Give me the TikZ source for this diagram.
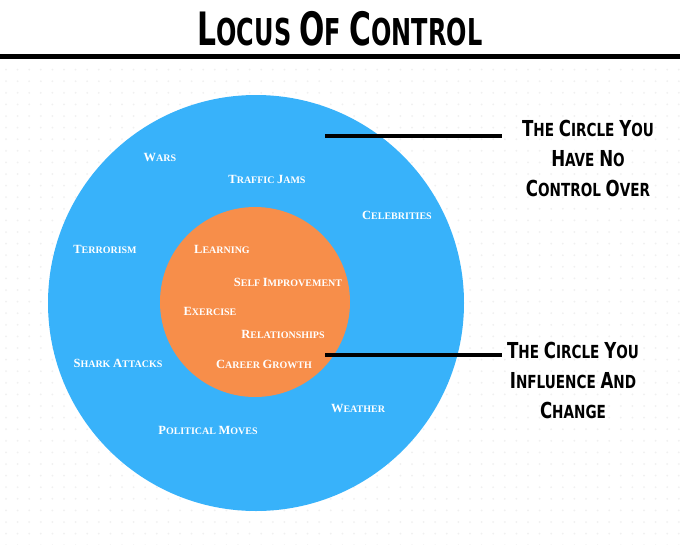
\documentclass[tikz,border=0pt]{standalone}
\usepackage{fontspec}
\setmainfont{Liberation Serif}
\newfontfamily\titlefont{DejaVu Sans Condensed}
\definecolor{outerblue}{RGB}{56,178,250}
\definecolor{innerorange}{RGB}{247,142,74}
\definecolor{dotgrey}{RGB}{240,240,240}
\newcommand\tsc[2]{{\fontsize{46}{46}\selectfont#1}{\fontsize{37}{37}\selectfont#2}}
\newcommand\rsc[2]{{\fontsize{22}{22}\selectfont#1}{\fontsize{18}{18}\selectfont#2}}
\newcommand\isc[2]{{\fontsize{12.5}{12.5}\selectfont#1}{\fontsize{10}{10}\selectfont#2}}
\tikzset{
  inlabel/.style={text=white,font=\bfseries,inner sep=0pt},
  sidelabel/.style={text=black,font=\titlefont\bfseries\fontsize{18}{30}\selectfont,align=center,inner sep=0pt},
  leader/.style={line width=4pt,black}
}
\begin{document}
\begin{tikzpicture}[x=1pt,y=-1pt]
\useasboundingbox[fill=white] (0,0) rectangle (680,544);
% faint dotted background
\foreach \i in {0,...,58}{\foreach \j in {6,...,47}{
  \fill[dotgrey] (6+\i*11.6,\j*11.6) circle (1pt);}}
% title
\node[inner sep=0pt,font=\titlefont\bfseries\fontsize{37}{37}\selectfont] (title) at (340,29)
  {\scalebox{0.72}[1]{\tsc{L}{OCUS} \tsc{O}{F} \tsc{C}{ONTROL}}};
\coordinate (ruleL) at (0,56);
\coordinate (ruleR) at (680,56);
\draw[line width=5pt,black] (ruleL) -- (ruleR);
% circles
\node[circle,fill=outerblue,minimum size=416pt,inner sep=0pt] (outer) at (256,303) {};
\node[circle,fill=innerorange,minimum size=190pt,inner sep=0pt] (inner) at (255,302) {};
% outer labels
\node[inlabel] (wars) at (160,157) {\isc{W}{ARS}};
\node[inlabel] (traffic) at (267,179) {\isc{T}{RAFFIC} \isc{J}{AMS}};
\node[inlabel] (celeb) at (397,215) {\isc{C}{ELEBRITIES}};
\node[inlabel] (terror) at (105,249) {\isc{T}{ERRORISM}};
\node[inlabel] (shark) at (118,363) {\isc{S}{HARK} \isc{A}{TTACKS}};
\node[inlabel] (weather) at (358,408) {\isc{W}{EATHER}};
\node[inlabel] (political) at (208,430) {\isc{P}{OLITICAL} \isc{M}{OVES}};
% inner labels
\node[inlabel] (learning) at (222,249) {\isc{L}{EARNING}};
\node[inlabel] (self) at (288,282) {\isc{S}{ELF} \isc{I}{MPROVEMENT}};
\node[inlabel] (exercise) at (210,311) {\isc{E}{XERCISE}};
\node[inlabel] (relations) at (283,334) {\isc{R}{ELATIONSHIPS}};
\node[inlabel] (career) at (264,364) {\isc{C}{AREER} \isc{G}{ROWTH}};
% side labels
\node[sidelabel] (noctrl) at (588,158) {\scalebox{0.84}[1]{\rsc{T}{HE} \rsc{C}{IRCLE} \rsc{Y}{OU}}\\\scalebox{0.84}[1]{\rsc{H}{AVE} \rsc{N}{O}}\\\scalebox{0.84}[1]{\rsc{C}{ONTROL} \rsc{O}{VER}}};
\node[sidelabel] (influence) at (573,380) {\scalebox{0.84}[1]{\rsc{T}{HE} \rsc{C}{IRCLE} \rsc{Y}{OU}}\\\scalebox{0.84}[1]{\rsc{I}{NFLUENCE} \rsc{A}{ND}}\\\scalebox{0.84}[1]{\rsc{C}{HANGE}}};
% leader lines
\coordinate (l1a) at (325,136);
\coordinate (l1b) at (502,136);
\coordinate (l2a) at (325,355);
\coordinate (l2b) at (502,355);
\draw[leader] (l1a) -- (l1b);
\draw[leader] (l2a) -- (l2b);
\end{tikzpicture}
\end{document}
